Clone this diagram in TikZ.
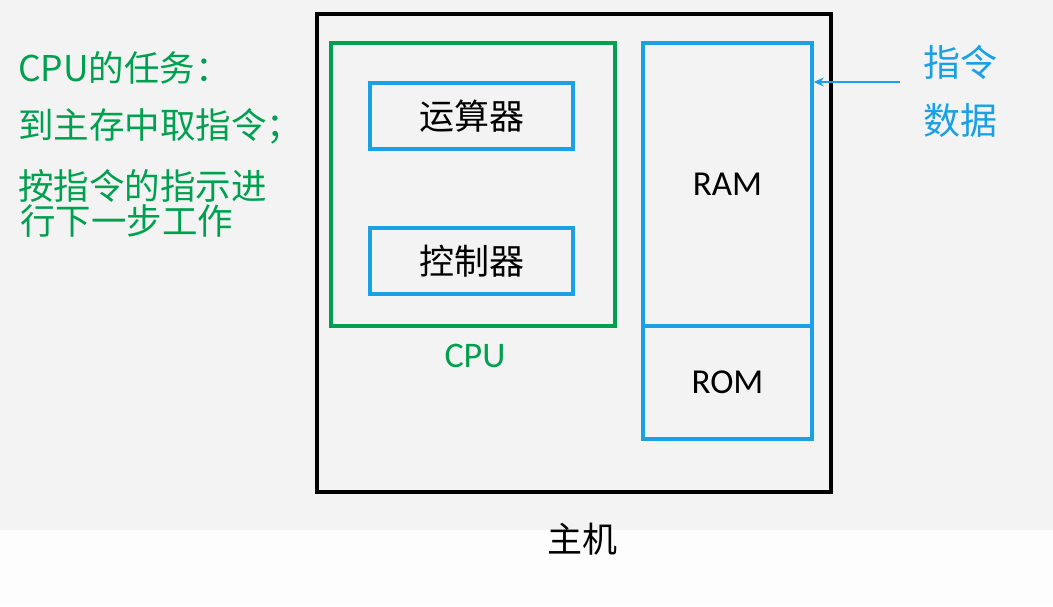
\documentclass[tikz,border=0pt]{standalone}
\usepackage{fontspec}
\newfontfamily\cjk{Noto Sans CJK SC}
\newfontfamily\lat{Carlito}
\usetikzlibrary{arrows.meta}
\definecolor{cpugreen}{RGB}{0,160,80}
\definecolor{memblue}{RGB}{26,160,228}
\definecolor{bgtop}{RGB}{243,243,243}
\definecolor{bgbot}{RGB}{253,253,253}
\tikzset{
  unitbox/.style={draw=memblue, line width=3.6pt, minimum width=203pt, minimum height=66pt, inner sep=0pt, font=\cjk\fontsize{35}{35}\selectfont},
  membox/.style={draw=memblue, line width=3.6pt, minimum width=169pt, inner sep=0pt, font=\lat\fontsize{35}{35}\selectfont},
  greentxt/.style={text=cpugreen, anchor=west, inner sep=0pt, font=\cjk\fontsize{35.5}{35.5}\selectfont},
  bluetxt/.style={text=memblue, inner sep=0pt, font=\cjk\fontsize{37}{37}\selectfont},
}
\begin{document}
\begin{tikzpicture}[x=1pt, y=-1pt]
  % page background
  \fill[bgtop] (0,0) rectangle (1053,530);
  \fill[bgbot] (0,530) rectangle (1053,606);
  \useasboundingbox (0,0) rectangle (1053,606);

  % host enclosure
  \node[draw=black, line width=4pt, minimum width=514pt, minimum height=478pt, inner sep=0pt] (host) at (574,253) {};
  \node[font=\cjk\fontsize{35}{35}\selectfont, inner sep=0pt] (hostlbl) at (582,539) {主机};

  % CPU with its two units
  \node[draw=cpugreen, line width=3.6pt, minimum width=284pt, minimum height=283pt, inner sep=0pt] (cpu) at (473,184.5) {};
  \node[text=cpugreen, font=\lat\fontsize{36}{36}\selectfont, inner sep=0pt] (cpulbl) at (475,356) {CPU};
  \node[unitbox] (alu) at (471.5,116) {运算器};
  \node[unitbox] (ctl) at (471.5,261) {控制器};

  % main memory
  \node[membox, minimum height=283pt] (ram) at (727.5,184.5) {RAM};
  \node[membox, minimum height=113pt] (rom) at (727.5,382.5) {ROM};

  % incoming instructions and data
  \node[bluetxt] (instr) at (960,62) {指令};
  \node[bluetxt] (data) at (960,120) {数据};
  \coordinate (src) at (900,82);
  \draw[memblue, line width=1.4pt, -{Stealth[length=10pt, width=9pt]}] (src) -- (ram.east |- src);

  % CPU tasks
  \node[greentxt] (t1) at (18,68) {CPU的任务：};
  \node[greentxt] (t2) at (18,126) {到主存中取指令；};
  \node[greentxt] (t3) at (18,186) {按指令的指示进};
  \node[greentxt] (t4) at (20,221) {行下一步工作};
\end{tikzpicture}
\end{document}
